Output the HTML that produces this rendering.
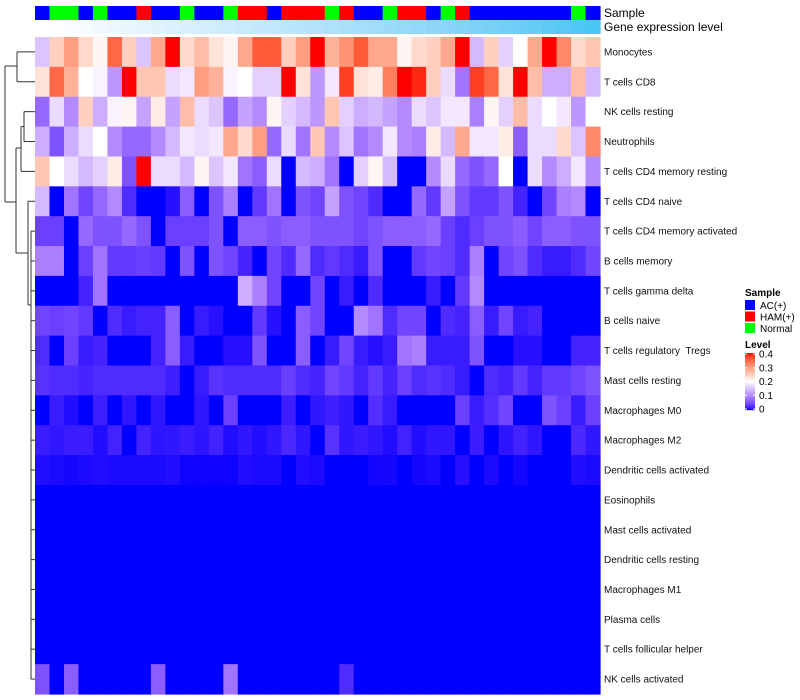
<!DOCTYPE html>
<html><head><meta charset="utf-8"><style>
body{margin:0;background:#fff;}
svg{display:block;font-family:"Liberation Sans",sans-serif;}
text{white-space:pre;}
</style></head><body>
<svg id="chart" width="800" height="700"></svg>
<script>
const rowNames=["Monocytes","T cells CD8","NK cells resting","Neutrophils","T cells CD4 memory resting","T cells CD4 naive","T cells CD4 memory activated","B cells memory","T cells gamma delta","B cells naive","T cells regulatory  Tregs","Mast cells resting","Macrophages M0","Macrophages M2","Dendritic cells activated","Eosinophils","Mast cells activated","Dendritic cells resting","Macrophages M1","Plasma cells","T cells follicular helper","NK cells activated"];
const sampleGroups=["A","N","N","A","N","A","A","H","A","A","N","A","A","N","H","H","A","H","H","H","N","H","A","A","N","H","H","A","N","H","A","A","A","A","A","A","A","N","A"];
const r0=[.15,.25,.3,.24,.21,.35,.25,.15,.29,.4,.24,.27,.23,.21,.29,.36,.36,.25,.3,.4,.28,.31,.36,.29,.29,.21,.24,.25,.29,.4,.14,.25,.16,.2,.29,.4,.32,.24,.26];
const r1=[.23,.35,.28,.2,.19,.11,.4,.26,.26,.17,.18,.3,.28,.19,.2,.16,.16,.4,.23,.11,.18,.38,.23,.22,.33,.4,.39,.25,.17,.08,.38,.35,.23,.4,.27,.13,.13,.27,.14];
const r2=[.07,.17,.1,.25,.13,.19,.21,.12,.22,.12,.27,.17,.15,.07,.12,.1,.21,.16,.14,.11,.26,.16,.13,.14,.12,.1,.17,.15,.18,.18,.09,.21,.16,.27,.17,.2,.18,.11,.2];
const r3=[.13,.05,.13,.17,.2,.1,.07,.07,.1,.14,.18,.17,.18,.29,.24,.3,.07,.17,.08,.26,.1,.15,.08,.1,.18,.1,.09,.22,.14,.29,.18,.18,.22,.06,.17,.17,.24,.15,.32];
const r4=[.26,.2,.17,.14,.16,.22,.05,.4,.17,.17,.14,.21,.15,.18,.08,.06,.17,0,.14,.13,.08,0,.16,.21,.14,0,0,.1,.17,.07,.05,.07,.2,0,.17,.1,.13,.18,.1];
const r5=[.14,0,.08,.04,.07,.1,.02,0,0,.005,.06,0,.05,.09,0,.03,.08,0,.05,.04,.12,.05,.04,.02,0,0,.07,.03,.12,.05,.03,.03,.05,.015,0,.04,.09,.1,0];
const r6=[.035,.035,0,.07,.05,.05,.07,.05,0,.035,.035,.035,.05,0,.06,.06,.05,.06,.06,.05,.05,.05,.04,.05,.06,.06,.06,.07,.035,.02,.035,.05,.05,.06,.04,.06,.06,.05,.05];
const r7=[.09,.09,0,.035,.08,.03,.03,.035,.03,0,.05,0,.05,.04,.015,0,.04,.02,.07,.02,.03,.02,.01,.05,0,0,.03,.04,.035,.02,.09,0,.04,.05,.02,.01,.01,.02,.04];
const r8=[0,0,0,.015,.08,0,0,0,0,0,0,0,0,0,.13,.09,.04,0,0,.04,0,.01,0,.02,0,0,0,.01,0,.03,.1,0,0,0,0,0,0,0,0];
const r9=[.04,.035,.04,.03,0,.02,.01,.015,.015,.06,0,.01,.005,0,0,.03,.005,0,.06,.04,0,0,.1,.08,.02,.04,.04,0,.02,.015,.06,.01,.04,.01,.015,0,0,0,0];
const r10=[.02,0,.035,.01,.015,0,0,0,.015,.06,.01,0,0,.005,.005,.05,0,0,.06,0,.01,.04,.01,.005,.01,.08,.09,.01,.01,.01,.05,0,0,.005,.005,0,0,.015,.015];
const r11=[.025,.02,.02,.015,.02,.02,.02,.02,.02,.012,0,.01,.025,.02,.02,.02,.02,.035,.02,.015,.04,.03,.015,.03,.015,.035,.02,.025,.02,.01,0,.02,.015,.03,.015,.03,.03,.04,.05];
const r12=[0,.01,.004,0,.012,0,.008,0,.008,0,0,.008,0,.035,0,0,0,.012,0,.008,.012,.008,0,.022,.01,0,0,0,0,.035,.01,.022,.04,0,0,.05,.035,.01,.035];
const r13=[.011,.008,.011,.011,.004,.014,0,.014,.007,.008,.011,.007,.014,.004,.008,.004,.008,.018,.008,0,.025,.008,.011,.008,.004,.014,.004,.008,.008,0,.011,0,.007,.014,.008,0,0,.018,.008];
const r14=[.004,.003,.002,.003,.004,.003,.003,.003,.003,.004,.001,.001,.001,.001,.004,.003,.003,0,.004,.003,0,0,0,.002,.002,0,.002,.003,0,.005,0,.003,0,.002,0,0,0,.004,.003];
const r15=[0,0,0,0,0,0,0,0,0,0,0,0,0,0,0,0,0,0,0,0,0,0,0,0,0,0,0,0,0,0,0,0,0,0,0,0,0,0,0];
const r21=[.05,0,.06,0,0,0,0,0,.06,0,0,0,0,.08,0,0,0,0,0,0,0,.02,0,0,0,0,0,0,0,0,0,0,0,0,0,0,0,0,0];
const matrix=[r0,r1,r2,r3,r4,r5,r6,r7,r8,r9,r10,r11,r12,r13,r14,r15,r15,r15,r15,r15,r15,r21];
const legendTicks=[0,0.1,0.2,0.3,0.4];

const NS="http://www.w3.org/2000/svg";
const svg=document.getElementById('chart');
function mk(tag,attrs,parent){const e=document.createElementNS(NS,tag);for(const k in attrs)e.setAttribute(k,attrs[k]);(parent||svg).appendChild(e);return e;}
function s2l(c){c/=255;return c<=0.04045?c/12.92:Math.pow((c+0.055)/1.055,2.4);}
function l2s(c){c=c<=0.0031308?12.92*c:1.055*Math.pow(c,1/2.4)-0.055;return Math.max(0,Math.min(255,Math.round(c*255)));}
function toLab(rgb){let [r,g,b]=rgb.map(s2l);let x=(r*0.4124+g*0.3576+b*0.1805)/0.95047,y=r*0.2126+g*0.7152+b*0.0722,z=(r*0.0193+g*0.1192+b*0.9505)/1.08883;
const f=t=>t>0.008856?Math.cbrt(t):7.787*t+16/116;x=f(x);y=f(y);z=f(z);return [116*y-16,500*(x-y),200*(y-z)];}
function fromLab(l){let y=(l[0]+16)/116,x=l[1]/500+y,z=y-l[2]/200;const fi=t=>t*t*t>0.008856?t*t*t:(t-16/116)/7.787;
x=fi(x)*0.95047;y=fi(y);z=fi(z)*1.08883;
const r=x*3.2406+y*-1.5372+z*-0.4986,g=x*-0.9689+y*1.8758+z*0.0415,b=x*0.0557+y*-0.2040+z*1.0570;return `rgb(${l2s(r)},${l2s(g)},${l2s(b)})`;}
const LB=toLab([0,0,255]),LW=toLab([255,255,255]),LR=toLab([255,0,0]);
function colorOf(v){v=Math.max(0,Math.min(0.4,v));let a,b,t;if(v<=0.2){a=LB;b=LW;t=v/0.2;}else{a=LW;b=LR;t=(v-0.2)/0.2;}return fromLab(a.map((x,i)=>x+(b[i]-x)*t));}

const x0=35,x1=600,y0=37,y1=694;
const nC=sampleGroups.length,nR=rowNames.length;
const cw=(x1-x0)/nC,rh=(y1-y0)/nR;
const xPos=c=>x0+c*cw, yPos=r=>y0+r*rh;
const sampleColors={A:"#0000FF",H:"#FF0000",N:"#00FF00"};

const gHeat=mk('g',{});


matrix.forEach((row,r)=>row.forEach((v,c)=>{
  const e=mk('rect',{x:xPos(c),y:yPos(r),width:cw+0.6,height:rh+0.6,fill:colorOf(v)},gHeat);
  
  
}));
const gS=mk('g',{});


sampleGroups.forEach((s,c)=>{
  const e=mk('rect',{x:xPos(c),y:6,width:cw+0.6,height:14,fill:sampleColors[s]},gS);
  
  
  const g=mk('rect',{x:xPos(c),y:20,width:cw+0.6,height:14,fill:fromLab(toLab([255,255,255]).map((x,i)=>x+(toLab([72,198,244])[i]-x)*(c/(nC-1))))},gS);
  
  
});
let t=mk('text',{x:604,y:17,'font-size':12});t.textContent='Sample';

t=mk('text',{x:604,y:31,'font-size':12});t.textContent='Gene expression level';

rowNames.forEach((n,r)=>{
  const e=mk('text',{x:604,y:yPos(r)+rh/2+3.5,'font-size':10,fill:'#111'});
  e.textContent=n;
  
  
});
const gD=mk('g',{stroke:'#333','stroke-width':1,fill:'none'});


const yc=r=>yPos(r)+rh/2;
const segs=[[17,yc(0),35,yc(0)],[17,yc(1),35,yc(1)],[17,yc(0),17,yc(1)],
[24,yc(2),35,yc(2)],[24,yc(3),35,yc(3)],[24,yc(2),24,yc(3)],
[21,(yc(2)+yc(3))/2,24,(yc(2)+yc(3))/2],[21,yc(4),35,yc(4)],[21,(yc(2)+yc(3))/2,21,yc(4)],
[16,148,21,148],[16,148,16,253],[16,253,28,253],[28,yc(5),35,yc(5)],[28,yc(5),28,305],[28,305,31,305],
[31,yc(6),31,yc(21)],[5,66,17,66],[5,66,5,202],[5,202,16,202]];
segs.forEach(s=>mk('line',{x1:s[0],y1:s[1],x2:s[2],y2:s[3]},gD));
for(let r=6;r<nR;r++)mk('line',{x1:31,y1:yc(r),x2:35,y2:yc(r)},gD);
const gL=mk('g',{});


t=mk('text',{x:745,y:296,'font-size':10,'font-weight':'bold'},gL);t.textContent='Sample';
[["A","AC(+)"],["H","HAM(+)"],["N","Normal"]].forEach((p,i)=>{
  const b=mk('rect',{x:745,y:300+i*11.5,width:10,height:10,fill:sampleColors[p[0]]},gL);
  
  const l=mk('text',{x:760,y:309+i*11.5,'font-size':10},gL);l.textContent=p[1];
  
});
t=mk('text',{x:745,y:348,'font-size':10,'font-weight':'bold'},gL);t.textContent='Level';
const cbTop=353,cbBot=410;
for(let i=0;i<57;i++){const v=0.4*(1-i/56);mk('rect',{x:745,y:cbTop+i,width:10,height:1.2,fill:colorOf(v)},gL);}
legendTicks.forEach(v=>{
  const y=cbBot-(v/0.4)*(cbBot-cbTop-2)-1;
  mk('line',{x1:745,y1:y,x2:747,y2:y,stroke:'#fff'},gL);mk('line',{x1:753,y1:y,x2:755,y2:y,stroke:'#fff'},gL);
  const l=mk('text',{x:759,y:y+3.5,'font-size':10},gL);l.textContent=String(v);
  
});
</script>
</body></html>
